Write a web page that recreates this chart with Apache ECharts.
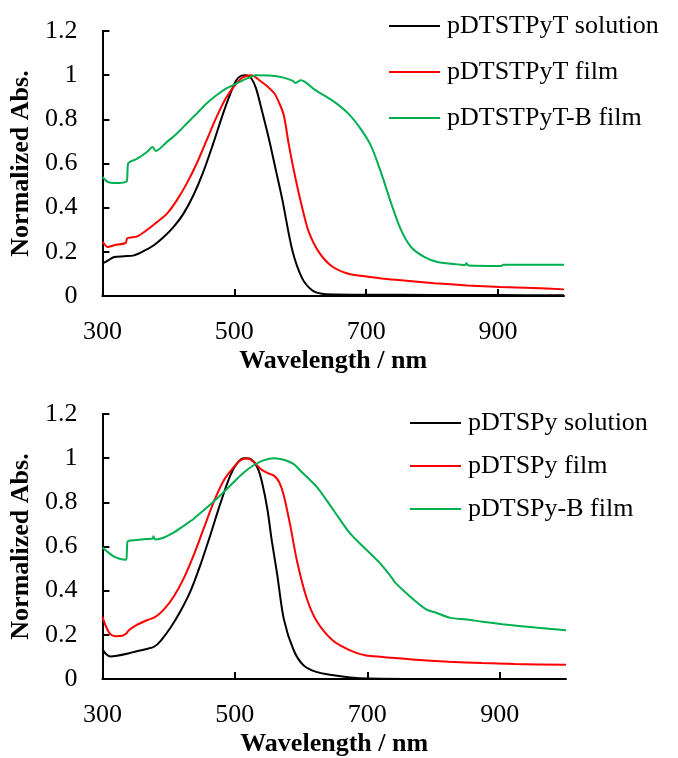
<!DOCTYPE html>
<html>
<head>
<meta charset="utf-8">
<script src="https://cdn.jsdelivr.net/npm/echarts@6/dist/echarts.min.js"></script>
<style>
html,body{margin:0;padding:0;background:#fff;}
#chart{width:678px;height:758px;}
</style>
</head>
<body>
<div id="chart"></div>
<script>
// ---- Data ----
const xTicks = [300, 500, 700, 900];
const yTicks = [0, 0.2, 0.4, 0.6, 0.8, 1, 1.2];

const topNames = ['pDTSTPyT solution', 'pDTSTPyT film', 'pDTSTPyT-B film'];
const bottomNames = ['pDTSPy solution', 'pDTSPy film', 'pDTSPy-B film'];

// Top panel
const topSolutionX = [300,302,308,318,333,348,363,378,393,408,423,438,453,468,483,493,503,511,518,526,533,543,553,563,573,588,603,618,633,653,700,800,900,1000];
const topSolutionY = [0.155,0.151,0.16,0.177,0.18,0.184,0.204,0.23,0.267,0.313,0.373,0.456,0.562,0.69,0.826,0.909,0.977,0.998,1.0,0.985,0.94,0.826,0.705,0.57,0.434,0.207,0.08,0.026,0.01,0.007,0.006,0.005,0.004,0.003];

const topFilmX = [300,303,308,318,335,338,353,368,383,398,413,428,443,458,473,488,503,513,526,538,551,561,568,575,583,593,603,613,628,648,673,698,723,753,803,853,903,953,1000];
const topFilmY = [0.245,0.235,0.222,0.23,0.24,0.262,0.27,0.3,0.335,0.373,0.434,0.51,0.6,0.705,0.81,0.9,0.962,0.99,1.0,0.977,0.947,0.917,0.875,0.82,0.68,0.53,0.40,0.29,0.2,0.135,0.101,0.089,0.079,0.071,0.058,0.048,0.041,0.036,0.03];

const topBFilmX = [300,308,318,337,338,339,353,368,376,381,398,413,428,443,458,473,488,503,518,533,553,573,588,593,601,623,648,673,693,708,723,738,753,768,788,808,843,850,852,855,905,908,1000];
const topBFilmY = [0.539,0.517,0.512,0.52,0.56,0.6,0.622,0.653,0.675,0.657,0.698,0.736,0.781,0.826,0.872,0.909,0.94,0.962,0.983,1.0,0.998,0.99,0.975,0.965,0.977,0.932,0.887,0.826,0.751,0.675,0.555,0.419,0.298,0.222,0.177,0.154,0.142,0.14,0.148,0.138,0.136,0.142,0.142];

// Bottom panel
const botSolutionX = [300,305,312,322,337,352,367,378,388,403,418,433,448,463,478,493,504,514,524,534,541,549,556,564,574,589,604,624,649,674,700,800,1000];
const botSolutionY = [0.136,0.114,0.102,0.105,0.114,0.126,0.136,0.146,0.173,0.233,0.308,0.398,0.517,0.652,0.794,0.921,0.98,1.0,0.996,0.958,0.891,0.771,0.622,0.472,0.27,0.129,0.061,0.031,0.017,0.007,0.002,0,0];

const botFilmX = [300,305,312,320,330,336,340,352,367,380,393,408,423,438,453,468,483,498,509,519,529,539,549,559,567,574,584,594,608,623,648,673,698,723,773,823,873,923,1000];
const botFilmY = [0.281,0.241,0.203,0.194,0.196,0.206,0.221,0.245,0.266,0.281,0.315,0.375,0.457,0.562,0.682,0.801,0.898,0.958,0.991,1.0,0.981,0.951,0.933,0.921,0.891,0.83,0.69,0.532,0.37,0.265,0.174,0.131,0.106,0.1,0.087,0.078,0.072,0.068,0.064];

const botBFilmX = [300,307,317,327,336,337,338,352,367,376,377,380,393,408,423,438,453,468,483,498,514,529,544,559,574,589,599,624,649,674,699,719,738,741,764,789,804,824,854,874,904,954,1000];
const botBFilmY = [0.595,0.577,0.555,0.543,0.54,0.58,0.622,0.629,0.634,0.636,0.646,0.632,0.641,0.664,0.694,0.726,0.764,0.804,0.846,0.891,0.936,0.969,0.991,1.0,0.993,0.973,0.943,0.869,0.764,0.659,0.584,0.525,0.455,0.44,0.375,0.315,0.3,0.278,0.268,0.259,0.248,0.233,0.221];

const colors = ['#000000', '#ff0000', '#00b050'];

// ---- Build option ----
const FONT = 'Liberation Serif';
const FS = 26;
const zip = (xs, ys) => xs.map((x, i) => [x, ys[i]]);

function makeX(gi) {
  return {
    type: 'value', gridIndex: gi, min: 300, max: 1000, interval: 200,
    name: 'Wavelength / nm', nameLocation: 'middle', nameGap: 52,
    nameTextStyle: {fontFamily: FONT, fontSize: FS, fontWeight: 'bold', color: '#000'},
    axisLine: {show: true, lineStyle: {color: '#000', width: 2}},
    axisTick: {show: true, inside: true, length: 7, lineStyle: {color: '#000', width: 2}, customValues: xTicks},
    axisLabel: {fontFamily: FONT, fontSize: FS, color: '#000', margin: 23, customValues: xTicks},
    splitLine: {show: false}
  };
}
function makeY(gi) {
  return {
    type: 'value', gridIndex: gi, min: 0, max: 1.2, interval: 0.2,
    name: 'Normalized Abs.', nameLocation: 'middle', nameGap: 60,
    nameTextStyle: {fontFamily: FONT, fontSize: FS, fontWeight: 'bold', color: '#000'},
    axisLine: {show: true, lineStyle: {color: '#000', width: 2}},
    axisTick: {show: true, inside: true, length: 7, lineStyle: {color: '#000', width: 2}, customValues: yTicks},
    axisLabel: {fontFamily: FONT, fontSize: FS, color: '#000', margin: 25, customValues: yTicks},
    splitLine: {show: false}
  };
}
function line(name, data, ci, gi) {
  return {
    name: name, type: 'line', xAxisIndex: gi, yAxisIndex: gi,
    data: data, symbol: 'none', showSymbol: false,
    smooth: 0.3,
    lineStyle: {color: colors[ci], width: 2}, itemStyle: {color: colors[ci]},
    z: 2 + ci
  };
}
function legend(names, left, top, gap) {
  return {
    data: names.map((n, i) => ({name: n, icon: 'rect', itemStyle: {color: colors[i]}})),
    orient: 'vertical', left: left, top: top, itemWidth: 51, itemHeight: 2, itemGap: gap,
    textStyle: {fontFamily: FONT, fontSize: FS, color: '#000', padding: [0, 0, 0, 2]}
  };
}

const option = {
  animation: false,
  backgroundColor: '#fff',
  grid: [
    {left: 98, top: 31, width: 466, height: 265},
    {left: 99, top: 414, width: 467, height: 268}
  ],
  xAxis: [makeX(0), makeX(1)],
  yAxis: [makeY(0), makeY(1)],
  legend: [
    legend(topNames, 384, 8, 20),
    legend(bottomNames, 405, 405, 17)
  ],
  series: [
    line(topNames[0], zip(topSolutionX, topSolutionY), 0, 0),
    line(topNames[1], zip(topFilmX, topFilmY), 1, 0),
    line(topNames[2], zip(topBFilmX, topBFilmY), 2, 0),
    line(bottomNames[0], zip(botSolutionX, botSolutionY), 0, 1),
    line(bottomNames[1], zip(botFilmX, botFilmY), 1, 1),
    line(bottomNames[2], zip(botBFilmX, botBFilmY), 2, 1)
  ]
};

const chart = echarts.init(document.getElementById('chart'), null, {renderer: 'canvas'});
chart.setOption(option);
</script>
</body>
</html>
